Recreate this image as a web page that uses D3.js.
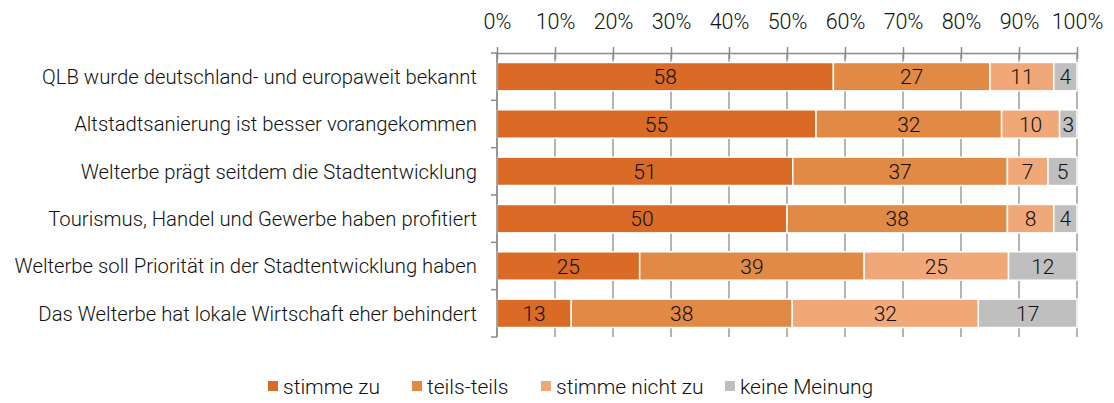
<!DOCTYPE html>
<html>
<head>
<meta charset="utf-8">
<script src="https://cdn.jsdelivr.net/npm/d3@7"></script>
<style>
  body { margin: 0; background: #fff; }
  svg text { font-family: "Roboto", sans-serif; font-weight: 300; fill: #111; }
</style>
</head>
<body>
<div id="chart"></div>
<script>
// statements (top to bottom)
const categories = [
    "QLB wurde deutschland- und europaweit bekannt",
    "Altstadtsanierung ist besser vorangekommen",
    "Welterbe prägt seitdem die Stadtentwicklung",
    "Tourismus, Handel und Gewerbe haben profitiert",
    "Welterbe soll Priorität in der Stadtentwicklung haben",
    "Das Welterbe hat lokale Wirtschaft eher behindert"
];
const seriesNames = ["stimme zu", "teils-teils", "stimme nicht zu", "keine Meinung"];
// shares in percent; labels are rounded
const stimmeZu = [58, 55, 51, 50, 24.6, 12.8];
const teilsTeils = [27, 32, 37, 38, 38.7, 38.1];
const stimmeNichtZu = [11, 10, 7, 8, 24.9, 32.1];
const keineMeinung = [4, 3, 5, 4, 11.8, 17];
const tickValues = [0, 10, 20, 30, 40, 50, 60, 70, 80, 90, 100];

const colors = ["#D96B27", "#E08A45", "#F0A878", "#BFBFBF"];

const width = 1114, height = 403;
const margin = { top: 53, right: 37, bottom: 66, left: 497 };
const innerW = width - margin.left - margin.right;
const innerH = height - margin.top - margin.bottom;

const table = categories.map((c, i) => ({
    category: c,
    "stimme zu": stimmeZu[i],
    "teils-teils": teilsTeils[i],
    "stimme nicht zu": stimmeNichtZu[i],
    "keine Meinung": keineMeinung[i]
}));

const stacked = d3.stack().keys(seriesNames)(table);

const svg = d3.select("#chart").append("svg")
    .attr("width", width)
    .attr("height", height);

const g = svg.append("g")
    .attr("transform", `translate(${margin.left}, ${margin.top})`);

const x = d3.scaleLinear().domain([0, 100]).range([0, innerW]);
const y = d3.scaleBand().domain(categories).range([0, innerH]).paddingInner(0.4).paddingOuter(0.2);

// vertical gridlines behind the bars
g.append("g")
    .selectAll("line")
    .data(tickValues)
    .enter().append("line")
    .attr("x1", d => x(d)).attr("x2", d => x(d))
    .attr("y1", 0).attr("y2", innerH)
    .attr("stroke", "#8c8c8c")
    .attr("stroke-width", 1.3);

// top axis
const xAxis = g.append("g")
    .call(d3.axisTop(x).tickValues(tickValues).tickFormat(d => d + "%").tickSize(6).tickSizeOuter(0));
xAxis.select(".domain").attr("stroke", "#8c8c8c").attr("stroke-width", 1.5);
xAxis.selectAll(".tick line").attr("stroke", "#8c8c8c").attr("stroke-width", 1.5).attr("y2", 6).attr("y1", -6);
xAxis.selectAll(".tick text")
    .attr("y", -24)
    .style("font-size", "21.5px")
    .attr("fill", "#111");

// bars
const layer = g.selectAll(".layer")
    .data(stacked)
    .enter().append("g")
    .attr("class", "layer")
    .attr("fill", (d, i) => colors[i]);

layer.selectAll("rect")
    .data(d => d)
    .enter().append("rect")
    .attr("x", d => x(d[0]))
    .attr("y", d => y(d.data.category))
    .attr("width", d => x(d[1]) - x(d[0]))
    .attr("height", y.bandwidth())
    .attr("stroke", "#fff")
    .attr("stroke-width", 1.5);

layer.selectAll("text")
    .data(d => d)
    .enter().append("text")
    .attr("x", d => x((d[0] + d[1]) / 2))
    .attr("y", d => y(d.data.category) + y.bandwidth() / 2)
    .attr("dy", "0.36em")
    .attr("text-anchor", "middle")
    .style("font-size", "21px")
    .text(d => Math.round(d[1] - d[0]));

// left axis with ticks at band boundaries
const step = y.step();
g.append("line")
    .attr("x1", 0).attr("x2", 0)
    .attr("y1", 0).attr("y2", innerH)
    .attr("stroke", "#8c8c8c")
    .attr("stroke-width", 1.5);
g.append("g")
    .selectAll("line")
    .data(d3.range(categories.length + 1))
    .enter().append("line")
    .attr("x1", -6).attr("x2", 0)
    .attr("y1", i => y(categories[0]) - step * 0.2 + i * step)
    .attr("y2", i => y(categories[0]) - step * 0.2 + i * step)
    .attr("stroke", "#8c8c8c")
    .attr("stroke-width", 1.5);

g.append("g")
    .selectAll("text")
    .data(categories)
    .enter().append("text")
    .attr("x", -20)
    .attr("y", d => y(d) + y.bandwidth() / 2)
    .attr("dy", "0.36em")
    .attr("text-anchor", "end")
    .style("font-size", "20.3px")
    .text(d => d);

// legend
const legendX = [268, 412, 541, 725];
const legend = svg.selectAll(".legend")
    .data(seriesNames)
    .enter().append("g")
    .attr("class", "legend")
    .attr("transform", (d, i) => `translate(${legendX[i]}, 386)`);

legend.append("rect")
    .attr("x", 0).attr("y", -5)
    .attr("width", 10).attr("height", 10)
    .attr("fill", (d, i) => colors[i]);

legend.append("text")
    .attr("x", 15)
    .attr("dy", "0.36em")
    .style("font-size", "21px")
    .text(d => d);
</script>
</body>
</html>
